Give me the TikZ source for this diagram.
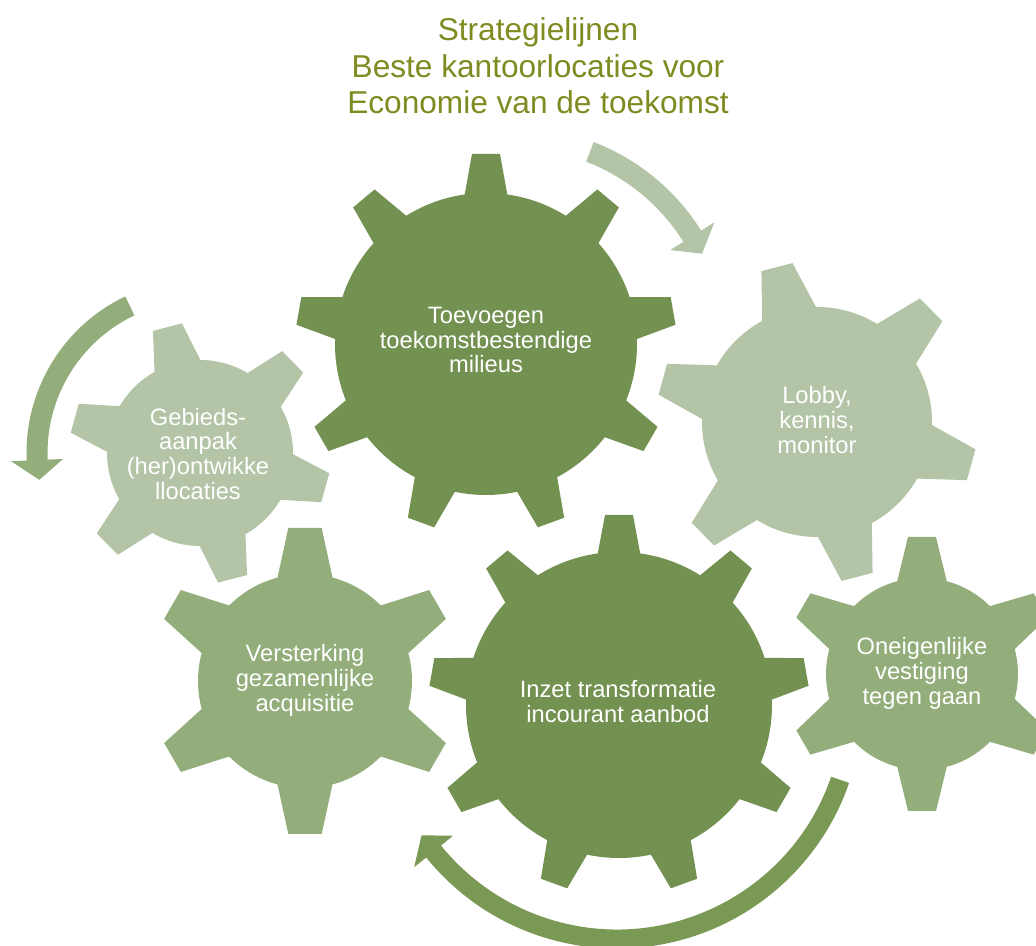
\documentclass[tikz,border=0pt]{standalone}
\usepackage{fontspec}
\setmainfont{Liberation Sans}
\usetikzlibrary{calc}
\definecolor{geardark}{HTML}{739150}
\definecolor{gearmid}{HTML}{93AD7B}
\definecolor{gearlight}{HTML}{B4C4A7}
\definecolor{arrowdark}{HTML}{799954}
\definecolor{titleolive}{HTML}{7F8B21}
% gear: x, y, teeth, body radius, tip radius, rotation, base half width, tip half width, colour
\newcommand{\gear}[9]{%
  \fill[#9] (#1,#2) circle[radius=#4];
  \foreach \i in {1,...,#3}
  \fill[#9, shift={(#1,#2)}, rotate={#6+(\i-1)*360/#3}] ({#4-12},-#7) -- (#5,-#8) -- (#5,#8) -- ({#4-12},#7) -- cycle;
}
% bent arrow: x, y, radius, start, end, width, head half width, tip angle, colour
\newcommand{\bentarrow}[9]{%
  \fill[#9] ($(#1,#2)+(#4:{#3-#6/2})$) arc[start angle=#4, end angle=#5, radius={#3-#6/2}]
    -- ($(#1,#2)+(#5:{#3-#7})$) -- ($(#1,#2)+(#8:#3)$) -- ($(#1,#2)+(#5:{#3+#7})$)
    -- ($(#1,#2)+(#5:{#3+#6/2})$) arc[start angle=#5, end angle=#4, radius={#3+#6/2}] -- cycle;
}
\begin{document}
\begin{tikzpicture}[x=0.02cm, y=0.02cm,
    gearlabel/.style={text=white, align=center, inner sep=0pt, font=\fontsize{13.5pt}{14.2pt}\selectfont}]
  \useasboundingbox (0,0) rectangle (1036,946);
  \node[text=titleolive, align=center, inner sep=0pt, font=\fontsize{18pt}{20.8pt}\selectfont] (title) at (538,880)
    {Strategielijnen\\Beste kantoorlocaties voor\\Economie van de toekomst};
  \bentarrow{515}{599}{209}{69}{32}{21}{26}{26.5}{gearlight}
  \bentarrow{200}{493}{163}{115.5}{182.5}{21}{26}{189.5}{gearmid}
  \bentarrow{617}{243}{236}{-19}{-141}{19}{25}{-145.9}{arrowdark}
  \gear{817}{524}{6}{115}{160}{104.5}{29.9}{16}{gearlight}
  \gear{200}{493}{6}{93}{130}{104.5}{25.6}{15}{gearlight}
  \gear{305}{265}{6}{107}{153}{90}{29.3}{16.7}{gearmid}
  \gear{922}{272}{6}{96}{137}{90}{26.9}{14}{gearmid}
  \gear{486}{602}{9}{151}{190}{90}{23.2}{14}{geardark}
  \gear{619}{241}{9}{153}{190}{90}{23.2}{14}{geardark}
  \node[gearlabel] (toevoegen) at (486,606) {Toevoegen\\toekomstbestendige\\milieus};
  \node[gearlabel] (lobby) at (817,526) {Lobby,\\kennis,\\monitor};
  \node[gearlabel] (gebied) at (198,492) {Gebieds-\\aanpak\\(her)ontwikke\\llocaties};
  \node[gearlabel] (acquisitie) at (305,266) {Versterking\\gezamenlijke\\acquisitie};
  \node[gearlabel] (transformatie) at (618,244) {Inzet transformatie\\incourant aanbod};
  \node[gearlabel] (vestiging) at (922,273) {Oneigenlijke\\vestiging\\tegen gaan};
\end{tikzpicture}
\end{document}
